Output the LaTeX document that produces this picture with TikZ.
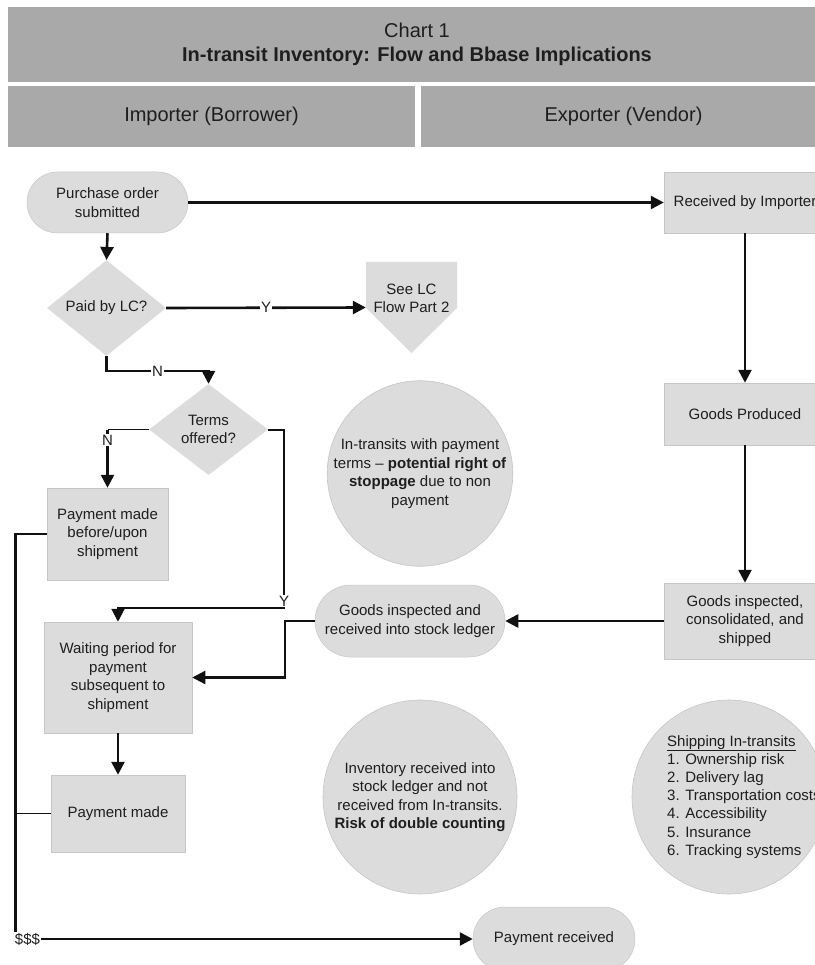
\documentclass[tikz,border=0pt]{standalone}
\usepackage{fontspec}
\setmainfont{Liberation Sans}
\usetikzlibrary{shapes.geometric,shapes.misc,arrows.meta,calc}
\definecolor{boxgray}{HTML}{DCDCDC}
\definecolor{hdrgray}{HTML}{A9A9A9}
\definecolor{edgegray}{HTML}{C6C6C6}
\definecolor{txt}{HTML}{1E1E1E}
\definecolor{ln}{HTML}{111111}
\begin{document}
\begin{tikzpicture}[x=1pt,y=-1pt,
  every node/.style={font=\fontsize{15}{18.5}\selectfont, text=txt, align=center},
  hdr/.style={rectangle, fill=hdrgray, inner sep=0, font=\fontsize{20}{24}\selectfont},
  pbox/.style={rectangle, fill=boxgray, draw=edgegray, line width=0.5pt, inner sep=0},
  stad/.style={rounded rectangle, fill=boxgray, draw=edgegray, line width=0.5pt, inner sep=0},
  dia/.style={diamond, fill=boxgray, inner sep=0},
  circ/.style={circle, fill=boxgray, draw=edgegray, line width=0.6pt, inner sep=0},
  conn/.style={draw=ln, line width=2.6pt, -{Triangle[length=13pt,width=13pt]}},
  plain/.style={draw=ln, line width=2.6pt},
  thinln/.style={draw=ln, line width=1.6pt},
  lbl/.style={fill=white, inner sep=1pt}]
\useasboundingbox (0,0) rectangle (814,965);
\fill[white] (0,0) rectangle (814,965);

% header
\node[hdr, minimum width=818, minimum height=75] (chart) at (417,44.5)
  {Chart 1\\\textbf{In-transit Inventory: Flow and Bbase Implications}};
\node[hdr, minimum width=407, minimum height=61] (imp) at (211.5,116.5) {Importer (Borrower)};
\node[hdr, minimum width=405, minimum height=61] (exp) at (623.5,116.5) {Exporter (Vendor)};

% nodes
\node[stad, minimum width=161, minimum height=61] (po) at (107.5,202.5) {Purchase order\\submitted};
\node[pbox, minimum width=162, minimum height=61] (rbi) at (745,202.5) {Received by Importer};
\node[dia, minimum width=119, minimum height=90] (lcq) at (106.5,308) {Paid by LC?};
\fill[boxgray] (366,262) -- (457,262) -- (457,308) -- (411.5,353) -- (366,308) -- cycle;
\node[minimum width=91, minimum height=91, inner sep=0] (lc) at (411.5,307.5) {See LC\\Flow Part 2\\\mbox{}};
\node[dia, minimum width=119, minimum height=91] (terms) at (208.5,429.5) {Terms\\offered?};
\node[pbox, minimum width=121, minimum height=92] (pmb) at (107.5,534) {Payment made\\before/upon\\shipment};
\node[pbox, minimum width=148, minimum height=111] (wait) at (118,677.5) {Waiting period for\\payment\\subsequent to\\shipment};
\node[pbox, minimum width=134, minimum height=77] (pm) at (118,813.5) {Payment made};
\node[pbox, minimum width=162, minimum height=62] (gp) at (745,414) {Goods Produced};
\node[pbox, minimum width=162, minimum height=76] (gis) at (745,621) {Goods inspected,\\consolidated, and\\shipped};
\node[stad, minimum width=190, minimum height=72] (gir) at (410,621) {Goods inspected and\\received into stock ledger};
\node[circ, minimum size=181] (c1) at (420,473.5)
  {In-transits with payment\\terms – \textbf{potential right of}\\\textbf{stoppage} due to non\\payment};
\node[circ, minimum size=194] (c2) at (420,797)
  {Inventory received into\\stock ledger and not\\received from In-transits.\\\textbf{Risk of double counting}};
\node[circ, minimum size=194] (c3) at (729,797) {};
\node[align=left, anchor=north west, inner sep=0, font=\fontsize{15}{18.2}\selectfont] (c3t) at (667,735)
  {\underline{Shipping In-transits}\\1. Ownership risk\\2. Delivery lag\\3. Transportation costs\\4. Accessibility\\5. Insurance\\6. Tracking systems};
\node[stad, minimum width=162, minimum height=64] (prec) at (554,939) {Payment received};
\node[inner sep=1pt] (dollars) at (27.5,939) {\$\$\$};
\coordinate (rail) at ([xshift=2pt]dollars.north west);

% connectors
\draw[conn] (po.south) -- (lcq.north);
\draw[conn] (po.east) -- (rbi.west);
\draw[conn] (lcq.east) -- node[lbl]{Y} (lc.west);
\draw[conn] (lcq.south) -- ++(0,15) -| node[pos=0.25,lbl]{N} (terms.north);
\draw[thinln] (terms.west) -- (terms.west -| pmb.north);
\draw[conn] (terms.west -| pmb.north) -- node[pos=0.18,lbl]{N} (pmb.north);
\draw[conn, line width=2pt] (terms.east) -- ++(16,0) -- ++(0,178.5) -| (wait.north);
\node[lbl] (ylab) at (284,601) {Y};
\draw[conn] (rbi.south) -- (gp.north);
\draw[conn] (gp.south) -- (gis.north);
\draw[conn] (gis.west) -- (gir.east);
\draw[conn, line width=2.2pt] (gir.west) -- ++(-30,0) |- (wait.east);
\draw[conn] (wait.south) -- (pm.north);
\draw[plain] (pmb.west) -| (rail);
\draw[thinln] (pm.west) -- (pm.west -| rail);
\draw[conn] (dollars.east) -- (prec.west);
\end{tikzpicture}
\end{document}
